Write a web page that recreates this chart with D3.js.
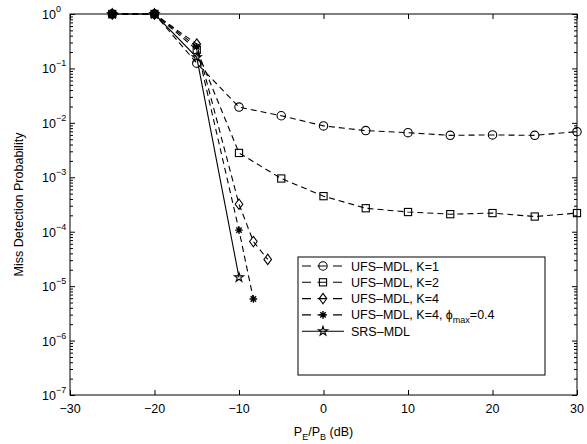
<!DOCTYPE html>
<html><head><meta charset="utf-8">
<script src="https://cdn.jsdelivr.net/npm/d3@7"></script>
<style>body{margin:0;background:#fff}svg{display:block}text{font-family:"Liberation Sans",Arial,Helvetica,sans-serif}</style>
</head><body>
<script>
// ---- data ----
const xK1 = [-25,-20,-15,-10,-5,0,5,10,15,20,25,30];
const yK1 = [1,1,0.125,0.0195,0.0135,0.0088,0.0072,0.0066,0.0059,0.006,0.0059,0.0069];
const xK2 = [-25,-20,-15,-10,-5,0,5,10,15,20,25,30];
const yK2 = [1,1,0.22,0.0028,0.00095,0.00045,0.00027,0.00023,0.00021,0.00022,0.00019,0.00022];
const xK4 = [-25,-20,-15,-10,-8.3,-6.6];
const yK4 = [1,1,0.28,0.00032,0.000066,0.000031];
const xK4phi = [-25,-20,-15,-10,-8.3];
const yK4phi = [1,1,0.25,0.000107,0.0000058];
const xSRS = [-25,-20,-15,-10];
const ySRS = [1,1,0.16,0.0000145];
const xTicks = [-30,-20,-10,0,10,20,30];
const yExps = [0,-1,-2,-3,-4,-5,-6,-7];
const legendLabels = ["UFS\u2013MDL, K=1","UFS\u2013MDL, K=2","UFS\u2013MDL, K=4","UFS\u2013MDL, K=4, \u03d5max=0.4","SRS\u2013MDL"];

const W=587,H=444, L=70,R=577,T=14,B=395;
const svg=d3.select("body").append("svg").attr("width",W).attr("height",H);
const x=d3.scaleLinear().domain([-30,30]).range([L,R]);
const y=d3.scaleLog().domain([1e-7,1]).range([B,T]);

// axes ticks (inward)
const g=svg.append("g");
g.append("g").attr("transform",`translate(0,${B})`).call(d3.axisBottom(x).tickValues(xTicks).tickSize(-5).tickFormat(""));
g.append("g").attr("transform",`translate(0,${T})`).call(d3.axisTop(x).tickValues(xTicks).tickSize(-5).tickFormat(""));
const major=yExps.map(e=>Math.pow(10,e));
const minor=[];
for(let e=-7;e<0;e++) for(let m=2;m<=9;m++) minor.push(m*Math.pow(10,e));
g.append("g").attr("transform",`translate(${L},0)`).call(d3.axisLeft(y).tickValues(major).tickSize(-5).tickFormat(""));
g.append("g").attr("transform",`translate(${R},0)`).call(d3.axisRight(y).tickValues(major).tickSize(-5).tickFormat(""));
g.append("g").attr("transform",`translate(${L},0)`).call(d3.axisLeft(y).tickValues(minor).tickSize(-3).tickFormat(""));
g.append("g").attr("transform",`translate(${R},0)`).call(d3.axisRight(y).tickValues(minor).tickSize(-3).tickFormat(""));
g.selectAll(".domain").remove();
g.selectAll("line").attr("stroke","#000").attr("stroke-width",1);
svg.append("rect").attr("x",L).attr("y",T).attr("width",R-L).attr("height",B-T).attr("fill","none").attr("stroke","#000").attr("stroke-width",1);

// tick labels
xTicks.forEach(v=>{
  svg.append("text").attr("x",x(v)).attr("y",B+18).attr("text-anchor","middle").attr("font-size",12.5).text(v<0?"\u2212"+(-v):v);
});
yExps.forEach(e=>{
  const t=svg.append("text").attr("x",L-14).attr("y",y(Math.pow(10,e))+5).attr("text-anchor","end").attr("font-size",12.5);
  t.append("tspan").text("10");
  svg.append("text").attr("x",L-14).attr("y",y(Math.pow(10,e))-2).attr("font-size",9).text(e===0?"0":"\u2212"+(-e));
});
// axis titles
const xt=svg.append("text").attr("x",(L+R)/2).attr("y",436).attr("text-anchor","middle").attr("font-size",12.5);
xt.append("tspan").text("P");
xt.append("tspan").attr("font-size",9).attr("dy",4).text("E");
xt.append("tspan").attr("dy",-4).text("/P");
xt.append("tspan").attr("font-size",9).attr("dy",4).text("B");
xt.append("tspan").attr("dy",-4).text(" (dB)");
svg.append("text").attr("transform",`translate(23,${(T+B)/2}) rotate(-90)`).attr("text-anchor","middle").attr("font-size",12.5).text("Miss Detection Probability");

// markers
function marker(sel,type,cx,cy){
  const s=sel.append("g").attr("transform",`translate(${cx},${cy})`).attr("fill","none").attr("stroke","#000").attr("stroke-width",1.1);
  if(type==="circle") s.append("circle").attr("r",4.2);
  if(type==="square") s.append("rect").attr("x",-3.6).attr("y",-3.6).attr("width",7.2).attr("height",7.2);
  if(type==="diamond") s.append("path").attr("d","M0,-5.2L3.8,0L0,5.2L-3.8,0Z");
  if(type==="ast"){
    const r=3.8,d=2.7;
    s.append("path").attr("d",`M${-r},0L${r},0M0,${-r}L0,${r}M${-d},${-d}L${d},${d}M${-d},${d}L${d},${-d}`).attr("stroke-width",1.4);
  }
  if(type==="star") s.append("path").attr("d",d3.symbol(d3.symbolStar,26)());
}
const series=[
  {xs:xK1,ys:yK1,m:"circle",dash:"6,4"},
  {xs:xK2,ys:yK2,m:"square",dash:"6,4"},
  {xs:xK4,ys:yK4,m:"diamond",dash:"6,4"},
  {xs:xK4phi,ys:yK4phi,m:"ast",dash:"6,4"},
  {xs:xSRS,ys:ySRS,m:"star",dash:null}
];
const line=d3.line().x(d=>x(d[0])).y(d=>y(d[1]));
series.forEach(s=>{
  const pts=s.xs.map((v,i)=>[v,s.ys[i]]);
  svg.append("path").attr("d",line(pts)).attr("fill","none").attr("stroke","#000").attr("stroke-width",1.1).attr("stroke-dasharray",s.dash);
});
series.forEach(s=>{
  s.xs.forEach((v,i)=>marker(svg,s.m,x(v),y(s.ys[i])));
});

// legend
const lg=svg.append("g");
lg.append("rect").attr("x",298).attr("y",257).attr("width",247).attr("height",118).attr("fill","#fff").attr("stroke","#000");
legendLabels.forEach((lab,i)=>{
  const cy=266+i*16.3;
  const s=series[i];
  lg.append("line").attr("x1",302).attr("x2",344).attr("y1",cy).attr("y2",cy).attr("stroke","#000").attr("stroke-width",1.1).attr("stroke-dasharray",s.dash?"9,6.5":null);
  marker(lg,s.m,323,cy);
  const t=lg.append("text").attr("x",351).attr("y",cy+4.5).attr("font-size",12.5);
  if(i===3){
    t.append("tspan").text("UFS\u2013MDL, K=4, \u03d5");
    t.append("tspan").attr("font-size",9).attr("dy",4).text("max");
    t.append("tspan").attr("dy",-4).text("=0.4");
  } else t.text(lab);
});
</script>
</body></html>
